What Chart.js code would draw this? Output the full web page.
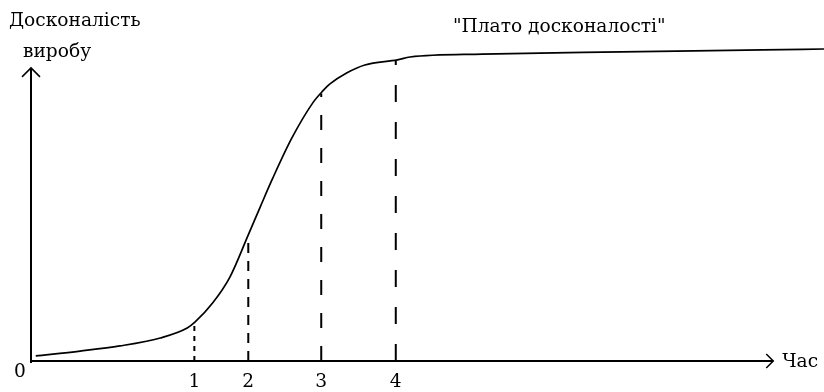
<!DOCTYPE html>
<html>
<head>
<meta charset="utf-8">
<script src="https://cdn.jsdelivr.net/npm/chart.js@4"></script>
<style>
  body { margin: 0; background: #fff; }
  canvas { display: block; }
</style>
</head>
<body>
<canvas id="chart" width="824" height="392"></canvas>
<script>
// S-curve of product perfection over time (arbitrary units 0..100)
var curveX = [0.6, 6.2, 11.2, 16.3, 19.7, 20.7, 22.9, 25.1, 27.4, 28.9, 30.5, 32.9,
  35.6, 36.8, 37.7, 39.8, 42.1, 46.2, 47.8, 56.9, 74.5, 92.3, 100];
var curveY = [1.6, 3.1, 4.7, 7.2, 10.3, 12.2, 18.1, 26.3, 39.4, 48.1, 57.2, 69.7,
  80.9, 84.4, 86.6, 90.0, 92.5, 94.1, 95.0, 95.9, 96.6, 97.2, 97.5];

// dashed marks at stages 1..4
var stageLabels = ["1", "2", "3", "4"];
var stageX = [20.6, 27.4, 36.6, 46.0];
var stageTop = [12.2, 39.4, 83.6, 94.1];
var stageDash = [[5, 5], [10, 8], [15, 18], [17, 20]];

var yAxisLabel = ["Досконалість", "виробу"];
var xAxisLabel = "Час";
var plateauLabel = "\"Плато досконалості\"";
var axisEnd = { x: 93.6, y: 91.6 };

var FONT = "18.6px 'DejaVu Serif'";

var datasets = [{
  data: curveX.map(function (x, i) { return { x: x, y: curveY[i] }; }),
  borderColor: "#000",
  borderWidth: 1.7,
  pointRadius: 0,
  cubicInterpolationMode: "monotone",
  clip: false
}];

stageX.forEach(function (x, i) {
  datasets.push({
    data: [{ x: x, y: 0 }, { x: x, y: stageTop[i] }],
    borderColor: "#000",
    borderWidth: 2,
    borderDash: stageDash[i],
    pointRadius: 0
  });
});

var axesPlugin = {
  id: "axes",
  afterDatasetsDraw: function (chart) {
    var ctx = chart.ctx;
    var sx = chart.scales.x, sy = chart.scales.y;
    var x0 = sx.getPixelForValue(0), y0 = sy.getPixelForValue(0);
    var xe = sx.getPixelForValue(axisEnd.x), ye = sy.getPixelForValue(axisEnd.y);
    ctx.save();
    ctx.strokeStyle = "#000";
    ctx.lineWidth = 2;
    ctx.beginPath();
    ctx.moveTo(x0, y0 + 2);
    ctx.lineTo(x0, ye);
    ctx.moveTo(x0, y0);
    ctx.lineTo(xe, y0);
    ctx.stroke();
    ctx.lineWidth = 1.5;
    ctx.beginPath();
    ctx.moveTo(x0 - 9, ye + 9);
    ctx.lineTo(x0, ye);
    ctx.lineTo(x0 + 9, ye + 9);
    ctx.moveTo(xe - 7, y0 - 7);
    ctx.lineTo(xe, y0);
    ctx.lineTo(xe - 7, y0 + 7);
    ctx.stroke();

    ctx.fillStyle = "#000";
    ctx.font = FONT;
    ctx.textBaseline = "alphabetic";
    ctx.textAlign = "center";
    ctx.fillText("0", x0 - 11, y0 + 16);
    stageX.forEach(function (x, i) {
      ctx.fillText(stageLabels[i], sx.getPixelForValue(x), y0 + 26);
    });
    ctx.textAlign = "left";
    ctx.fillText(yAxisLabel[0], 9, 26);
    ctx.fillText(yAxisLabel[1], 23, 57);
    ctx.fillText(plateauLabel, 453, 32);
    ctx.fillText(xAxisLabel, xe + 9, y0 + 6);
    ctx.restore();
  }
};

new Chart(document.getElementById("chart"), {
  type: "line",
  data: { datasets: datasets },
  options: {
    responsive: false,
    animation: false,
    layout: { padding: { left: 31, right: 0, top: 41, bottom: 31 } },
    plugins: { legend: { display: false }, tooltip: { enabled: false } },
    scales: {
      x: { type: "linear", min: 0, max: 100, display: false },
      y: { min: 0, max: 100, display: false }
    }
  },
  plugins: [axesPlugin]
});
</script>
</body>
</html>
